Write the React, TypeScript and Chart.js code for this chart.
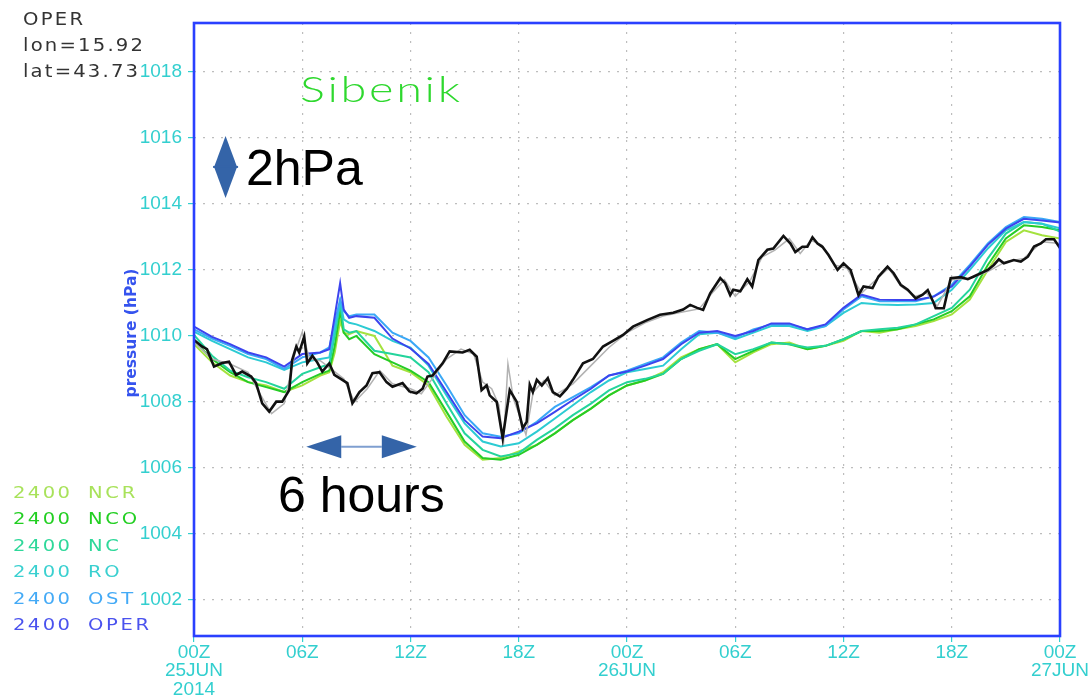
import React, { useEffect, useRef } from "react";
import { Chart, registerables } from "chart.js";

Chart.register(...registerables);

// ---------------------------------------------------------------------------
// Surface pressure at Sibenik (lon 15.92, lat 43.73), 25 JUN 00Z – 27 JUN 00Z
// Hours are counted from 25JUN2014 00Z.
// ---------------------------------------------------------------------------

// model runs (2400 forecasts), shared time axis
const modelHours = [
  0, 1, 2, 3, 4, 5, 6, 7, 7.5, 7.8, 8.1, 8.3, 8.6,
  9, 10, 11, 12, 13, 14, 15, 16, 17, 18, 19, 20, 21, 22, 23, 24, 25, 26, 27, 28,
  29, 30, 31, 32, 33, 34, 35, 36, 37, 38, 39, 40, 41, 42, 43, 44, 45, 46, 47, 48,
];

const operValues = [
  1010.28, 1009.97, 1009.75, 1009.5, 1009.35, 1009.07, 1009.45, 1009.5, 1009.6, 1010.6, 1011.6, 1010.8, 1010.55,
  1010.6, 1010.55, 1009.92, 1009.62, 1009.15, 1008.3, 1007.45, 1006.95, 1006.9, 1007.1, 1007.35, 1007.7, 1008.06,
  1008.4, 1008.8, 1008.92, 1009.1, 1009.3, 1009.75, 1010.1, 1010.15, 1010.0, 1010.15, 1010.38, 1010.38, 1010.2,
  1010.35, 1010.85, 1011.25, 1011.1, 1011.09, 1011.09, 1011.19, 1011.5, 1012.1, 1012.76, 1013.25, 1013.55, 1013.5,
  1013.44,
];

const ostValues = [
  1010.2, 1009.92, 1009.7, 1009.45, 1009.3, 1009.0, 1009.35, 1009.5, 1009.65, 1010.4, 1011.1, 1010.75, 1010.6,
  1010.65, 1010.65, 1010.1, 1009.85, 1009.35, 1008.5, 1007.6, 1007.05, 1006.95, 1007.05, 1007.4, 1007.85, 1008.15,
  1008.45, 1008.8, 1008.95, 1009.15, 1009.35, 1009.8, 1010.15, 1010.1, 1009.95, 1010.2, 1010.35, 1010.35, 1010.2,
  1010.3, 1010.8, 1011.2, 1011.05, 1011.05, 1011.05, 1011.2, 1011.55, 1012.15, 1012.8, 1013.3, 1013.6, 1013.55,
  1013.45,
];

const roValues = [
  1010.13, 1009.85, 1009.6, 1009.35, 1009.2, 1008.97, 1009.2, 1009.3, 1009.35, 1010.2, 1011.05, 1010.5, 1010.4,
  1010.35, 1010.15, 1009.85, 1009.65, 1009.1, 1008.2, 1007.35, 1006.8, 1006.65, 1006.75, 1007.1, 1007.5, 1007.9,
  1008.3, 1008.65, 1008.9, 1009.0, 1009.1, 1009.6, 1010.05, 1010.1, 1009.9, 1010.1, 1010.3, 1010.3, 1010.15,
  1010.3, 1010.7, 1011.0, 1010.95, 1010.94, 1010.95, 1011.0, 1011.4, 1012.0, 1012.65, 1013.2, 1013.45, 1013.4,
  1013.26,
];

const ncValues = [
  1010.03, 1009.4, 1008.95, 1008.75, 1008.6, 1008.4, 1008.85, 1009.05, 1009.15, 1010.0, 1011.0, 1010.2, 1010.1,
  1010.15, 1009.55, 1009.45, 1009.35, 1008.9, 1007.95, 1007.05, 1006.55, 1006.35, 1006.45, 1006.85, 1007.2, 1007.6,
  1007.95, 1008.35, 1008.6, 1008.7, 1008.85, 1009.3, 1009.55, 1009.75, 1009.45, 1009.6, 1009.8, 1009.75, 1009.65,
  1009.7, 1009.9, 1010.15, 1010.2, 1010.25, 1010.35, 1010.6, 1010.85, 1011.4, 1012.35, 1013.1, 1013.45, 1013.4,
  1013.16,
];

const ncoValues = [
  1009.85, 1009.3, 1008.9, 1008.6, 1008.45, 1008.3, 1008.6, 1008.85, 1008.95, 1009.7, 1010.75, 1010.1, 1009.9,
  1010.0, 1009.45, 1009.2, 1008.95, 1008.6, 1007.7, 1006.8, 1006.3, 1006.25, 1006.4, 1006.7, 1007.05, 1007.45,
  1007.8, 1008.2, 1008.5, 1008.65, 1008.85, 1009.3, 1009.6, 1009.75, 1009.3, 1009.55, 1009.8, 1009.75, 1009.6,
  1009.7, 1009.9, 1010.15, 1010.15, 1010.2, 1010.35, 1010.5, 1010.75, 1011.2, 1012.15, 1012.95, 1013.35, 1013.3,
  1013.2,
];

const ncrValues = [
  1009.75, 1009.2, 1008.8, 1008.6, 1008.5, 1008.3, 1008.5, 1008.8, 1008.9, 1009.5, 1010.45, 1010.1, 1010.05,
  1010.15, 1010.0, 1009.1, 1008.9, 1008.5, 1007.55, 1006.7, 1006.25, 1006.3, 1006.5, 1006.7, 1007.05, 1007.45,
  1007.8, 1008.2, 1008.5, 1008.65, 1008.9, 1009.35, 1009.6, 1009.75, 1009.2, 1009.5, 1009.75, 1009.8, 1009.6,
  1009.7, 1009.85, 1010.15, 1010.1, 1010.2, 1010.3, 1010.45, 1010.65, 1011.1, 1012.0, 1012.85, 1013.2, 1013.05,
  1012.95,
];

// station observation (black)
const obsHours = [
  0, 0.44, 0.72, 1.11, 1.56, 1.94, 2.33, 2.67, 3.17, 3.44,
  3.78, 4.17, 4.56, 4.89, 5.28, 5.44, 5.67, 5.83, 6.11, 6.28,
  6.56, 6.83, 7.11, 7.5, 7.78, 8.22, 8.5, 8.78, 9.17, 9.56,
  9.89, 10.28, 10.67, 11, 11.56, 11.94, 12.33, 12.67, 12.94, 13.22,
  13.78, 14.17, 14.89, 15.28, 15.67, 15.94, 16.22, 16.39, 16.78, 17.11,
  17.5, 17.89, 18.22, 18.44, 18.61, 18.78, 19, 19.28, 19.61, 19.89,
  20.28, 20.67, 21, 21.56, 22.11, 22.67, 23.22, 23.78, 24.33, 25.11,
  25.83, 26.56, 27.11, 27.5, 27.89, 28.22, 28.61, 29.17, 29.44, 29.72,
  29.89, 30.28, 30.67, 30.94, 31.28, 31.78, 32.11, 32.67, 33.06, 33.33,
  33.72, 34, 34.28, 34.56, 34.83, 35.17, 35.67, 36, 36.39, 36.83,
  37.11, 37.61, 37.94, 38.44, 38.78, 39.17, 39.56, 40, 40.39, 40.67,
  41, 41.11, 41.56, 41.94, 42.5, 42.89, 43.22, 44, 44.33, 44.61,
  44.89, 45.44, 45.83, 46.22, 46.56, 46.94, 47.22, 47.67, 48,
];
const obsValues = [
  1009.88, 1009.68, 1009.6, 1009.07, 1009.18, 1009.22, 1008.82, 1008.92, 1008.77, 1008.57,
  1007.96, 1007.71, 1008.01, 1008.01, 1008.36, 1009.27, 1009.68, 1009.5, 1009.98, 1009.17,
  1009.4, 1009.2, 1008.92, 1009.17, 1008.82, 1008.67, 1008.57, 1007.96, 1008.3, 1008.5,
  1008.87, 1008.9, 1008.6, 1008.46, 1008.57, 1008.32, 1008.26, 1008.4, 1008.77, 1008.8,
  1009.17, 1009.53, 1009.5, 1009.58, 1009.37, 1008.36, 1008.5, 1008.2, 1008.0, 1006.9,
  1008.36, 1008.0, 1007.2, 1007.4, 1008.52, 1008.3, 1008.67, 1008.5, 1008.72, 1008.3,
  1008.17, 1008.4, 1008.67, 1009.17, 1009.3, 1009.68, 1009.85, 1010.03, 1010.28, 1010.48,
  1010.64, 1010.7, 1010.8, 1010.94, 1010.85, 1010.79, 1011.29, 1011.75, 1011.6, 1011.24,
  1011.4, 1011.35, 1011.72, 1011.5, 1012.3, 1012.61, 1012.65, 1013.03, 1012.8, 1012.54,
  1012.7, 1012.7, 1012.99, 1012.8, 1012.7, 1012.45, 1012.0, 1012.2, 1012.0, 1011.24,
  1011.5, 1011.45, 1011.8, 1012.1, 1011.9, 1011.55, 1011.4, 1011.14, 1011.25, 1011.39,
  1011.0, 1010.84, 1010.84, 1011.75, 1011.78, 1011.72, 1011.8, 1012.0, 1012.15, 1012.32,
  1012.2, 1012.3, 1012.25, 1012.4, 1012.71, 1012.8, 1012.93, 1012.93, 1012.66,
];

// second observation record (grey)
const obs2Hours = [
  0, 1, 2, 3, 3.6, 4.3, 5, 5.6, 6, 6.4,
  7, 7.6, 8.3, 8.9, 9.6, 10.3, 11, 12, 12.6, 13.2,
  14, 14.8, 15.5, 16, 16.5, 16.9, 17.15, 17.4, 17.7, 18.1,
  18.4, 18.8, 19.4, 20, 21, 22, 23, 24, 25, 26,
  27, 28, 28.8, 29.4, 30, 30.8, 31.5, 32.2, 33, 33.6,
  34.2, 34.8, 35.5, 36.2, 37, 37.8, 38.5, 39.2, 40, 40.6,
  41.2, 42, 43, 44, 45, 46, 47, 48,
];
const obs2Values = [
  1009.82, 1009.3, 1009.15, 1008.9, 1008.3, 1007.65, 1007.95, 1009.5, 1010.12, 1009.3,
  1009.25, 1009.0, 1008.7, 1008.0, 1008.4, 1008.95, 1008.55, 1008.4, 1008.25, 1008.7,
  1009.3, 1009.6, 1009.45, 1008.6, 1008.4, 1007.9, 1006.7, 1009.15, 1008.1, 1007.5,
  1007.0, 1008.3, 1008.65, 1008.2, 1008.55, 1009.1, 1009.65, 1010.1, 1010.4, 1010.6,
  1010.72, 1010.82, 1011.35, 1011.7, 1011.2, 1011.65, 1012.4, 1012.6, 1012.95, 1012.5,
  1012.9, 1012.75, 1012.15, 1012.05, 1011.3, 1011.7, 1012.05, 1011.5, 1011.2, 1011.3,
  1010.9, 1011.7, 1011.75, 1011.95, 1012.25, 1012.35, 1012.85, 1012.8,
];

// axes
const yMin = 1000.91;
const yMax = 1019.48;
const yTicks = [1002, 1004, 1006, 1008, 1010, 1012, 1014, 1016, 1018];
const xTicks = [0, 6, 12, 18, 24, 30, 36, 42, 48];
const xTickLabels: (string | string[])[] = [
  ["00Z", "25JUN", "2014"], "06Z", "12Z", "18Z", ["00Z", "26JUN"], "06Z", "12Z", "18Z", ["00Z", "27JUN"],
];

// legend block (bottom left), listed top to bottom
const legendRun = "2400";
const legendNames = ["NCR", "NCO", "NC", "RO", "OST", "OPER"];

// scale reference arrows
const pressureArrowHour = 1.75;
const pressureArrowTop = 1016.06;
const pressureArrowBottom = 1014.18;
const timeArrowLevel = 1006.64;
const timeArrowStart = 6.22;
const timeArrowEnd = 12.35;

// ---------------------------------------------------------------------------
const COLOR: Record<string, string> = {
  OPER: "#3c44ee",
  OST: "#3aa8f6",
  RO: "#2ccbd3",
  NC: "#24d49c",
  NCO: "#26cc26",
  NCR: "#a4e23e",
};
const LEGEND_COLOR: Record<string, string> = {
  OPER: "#4a52ee",
  OST: "#44aaf6",
  RO: "#3ad0d0",
  NC: "#2ed89a",
  NCO: "#22cf22",
  NCR: "#a8e25a",
};
const AXIS_TEXT = "#33cfcf";
const FRAME = "#2a40ff";
const ARROW = "#3464a8";

// Wide, plotter-style lettering: glyphs stretched horizontally by `stretch`,
// remaining room up to `width` given as letter spacing.
function wideText(
  ctx: CanvasRenderingContext2D,
  text: string,
  left: number,
  baseline: number,
  font: string,
  color: string,
  width: number,
  stretch: number
) {
  ctx.save();
  ctx.font = font;
  (ctx as any).letterSpacing = "0px";
  const natural = ctx.measureText(text).width * stretch;
  const gap = text.length > 1 ? Math.max(0, (width - natural) / (text.length - 1)) : 0;
  ctx.translate(left, baseline);
  ctx.scale(stretch, 1);
  (ctx as any).letterSpacing = `${gap / stretch}px`;
  ctx.fillStyle = color;
  ctx.textAlign = "left";
  ctx.textBaseline = "alphabetic";
  ctx.fillText(text, 0, 0);
  (ctx as any).letterSpacing = "0px";
  ctx.restore();
}

const overlayPlugin = {
  id: "overlay",
  afterDatasetsDraw(chart: any) {
    const { ctx, chartArea: a, scales } = chart;
    const xs = scales.x;
    const ys = scales.y;
    ctx.save();

    // plot frame
    ctx.strokeStyle = FRAME;
    ctx.lineWidth = 2.6;
    ctx.strokeRect(a.left, a.top, a.right - a.left, a.bottom - a.top);

    // 2 hPa double arrow
    ctx.fillStyle = ARROW;
    const px = xs.getPixelForValue(pressureArrowHour);
    const pTop = ys.getPixelForValue(pressureArrowTop);
    const pBot = ys.getPixelForValue(pressureArrowBottom);
    const pMid = (pTop + pBot) / 2;
    const half = 11.5;
    ctx.beginPath();
    ctx.moveTo(px, pTop);
    ctx.lineTo(px + half, pMid);
    ctx.lineTo(px, pBot);
    ctx.lineTo(px - half, pMid);
    ctx.closePath();
    ctx.fill();
    ctx.fillRect(px - half - 1, pMid - 1, 2 * half + 2, 2);

    // 6 hours double arrow
    const ty = ys.getPixelForValue(timeArrowLevel);
    const tx0 = xs.getPixelForValue(timeArrowStart);
    const tx1 = xs.getPixelForValue(timeArrowEnd);
    const head = 35;
    ctx.strokeStyle = "#7f9fd0";
    ctx.lineWidth = 2;
    ctx.beginPath();
    ctx.moveTo(tx0 + head, ty);
    ctx.lineTo(tx1 - head, ty);
    ctx.stroke();
    ctx.beginPath();
    ctx.moveTo(tx0, ty);
    ctx.lineTo(tx0 + head, ty - half);
    ctx.lineTo(tx0 + head, ty + half);
    ctx.closePath();
    ctx.fill();
    ctx.beginPath();
    ctx.moveTo(tx1, ty);
    ctx.lineTo(tx1 - head, ty - half);
    ctx.lineTo(tx1 - head, ty + half);
    ctx.closePath();
    ctx.fill();

    // arrow captions
    ctx.fillStyle = "#000";
    ctx.font = "50px 'Liberation Sans', Arial, sans-serif";
    ctx.textAlign = "left";
    ctx.textBaseline = "alphabetic";
    ctx.fillText("2hPa", 246, 185);
    ctx.fillText("6 hours", 278, 512);

    // station name
    wideText(ctx, "Sibenik", 300, 102, "300 36px Lato, 'DejaVu Sans', sans-serif", "#2ed82e", 160, 1.3);

    // header
    const hdr = "17.5px 'DejaVu Sans', sans-serif";
    wideText(ctx, "OPER", 23, 25, hdr, "#333333", 60, 1.12);
    wideText(ctx, "lon=15.92", 23, 51, hdr, "#333333", 120, 1.12);
    wideText(ctx, "lat=43.73", 23, 77, hdr, "#333333", 115, 1.12);

    // legend
    const lf = "16px 'DejaVu Sans', sans-serif";
    legendNames.forEach((name, i) => {
      const base = 498 + i * 26.4;
      const c = LEGEND_COLOR[name];
      wideText(ctx, legendRun, 13, base, lf, c, 57, 1.22);
      ctx.save();
      ctx.font = lf;
      const w = ctx.measureText(name).width * 1.22 + (name.length - 1) * 2.7;
      ctx.restore();
      wideText(ctx, name, 88, base, lf, c, w, 1.22);
    });

    // y-axis title
    ctx.save();
    ctx.translate(132, 333);
    ctx.rotate(-Math.PI / 2);
    ctx.font = "bold 15.5px 'DejaVu Sans', sans-serif";
    ctx.fillStyle = "#3553ee";
    ctx.textAlign = "center";
    ctx.textBaseline = "middle";
    ctx.fillText("pressure (hPa)", 0, 0);
    ctx.restore();

    ctx.restore();
  },
};

function series(hours: number[], values: number[]) {
  return hours.map((h, i) => ({ x: h, y: values[i] }));
}

export default function App() {
  const canvasRef = useRef<HTMLCanvasElement | null>(null);

  useEffect(() => {
    const canvas = canvasRef.current;
    if (!canvas) return;

    const axisFont = { family: "'Liberation Sans', Arial, sans-serif", size: 19, lineHeight: 0.98 };
    const gridCommon = {
      color: "#bdbdbd",
      lineWidth: 1.2,
      tickColor: AXIS_TEXT,
      tickLength: 6,
      tickWidth: 1.2,
      drawTicks: true,
    };

    const chart = new Chart(canvas, {
      type: "line",
      data: {
        datasets: [
          { label: "obs", data: series(obsHours, obsValues), borderColor: "#111111", borderWidth: 2.6 },
          { label: "obs2", data: series(obs2Hours, obs2Values), borderColor: "#b2b2b2", borderWidth: 1.5 },
          { label: "OPER", data: series(modelHours, operValues), borderColor: COLOR.OPER, borderWidth: 2 },
          { label: "OST", data: series(modelHours, ostValues), borderColor: COLOR.OST, borderWidth: 2 },
          { label: "RO", data: series(modelHours, roValues), borderColor: COLOR.RO, borderWidth: 2 },
          { label: "NC", data: series(modelHours, ncValues), borderColor: COLOR.NC, borderWidth: 2 },
          { label: "NCO", data: series(modelHours, ncoValues), borderColor: COLOR.NCO, borderWidth: 2 },
          { label: "NCR", data: series(modelHours, ncrValues), borderColor: COLOR.NCR, borderWidth: 2 },
        ],
      },
      options: {
        responsive: false,
        animation: false,
        events: [],
        elements: { point: { radius: 0 }, line: { tension: 0, fill: false } },
        layout: { padding: { top: 23, right: 32, left: 0, bottom: 0 } },
        plugins: { legend: { display: false }, tooltip: { enabled: false }, title: { display: false } },
        scales: {
          x: {
            type: "linear",
            min: 0,
            max: 48,
            afterFit: (s: any) => {
              s.height = 63;
            },
            afterBuildTicks: (s: any) => {
              s.ticks = xTicks.map((v) => ({ value: v }));
            },
            ticks: {
              color: AXIS_TEXT,
              font: axisFont,
              padding: 1,
              maxRotation: 0,
              autoSkip: false,
              callback: (_v: any, i: number) => xTickLabels[i],
            },
            grid: gridCommon,
            border: { display: false, dash: [2, 7] },
          },
          y: {
            type: "linear",
            min: yMin,
            max: yMax,
            afterFit: (s: any) => {
              s.width = 194;
            },
            afterBuildTicks: (s: any) => {
              s.ticks = yTicks.map((v) => ({ value: v }));
            },
            ticks: {
              color: AXIS_TEXT,
              font: axisFont,
              padding: 6,
              callback: (v: any) => String(v),
            },
            grid: gridCommon,
            border: { display: false, dash: [2, 7] },
          },
        },
      },
      plugins: [overlayPlugin],
    } as any);

    return () => chart.destroy();
  }, []);

  return (
    <div style={{ position: "fixed", left: 0, top: 0, width: 1092, height: 699, background: "#fff" }}>
      <canvas ref={canvasRef} width={1092} height={699} style={{ display: "block" }} />
    </div>
  );
}
